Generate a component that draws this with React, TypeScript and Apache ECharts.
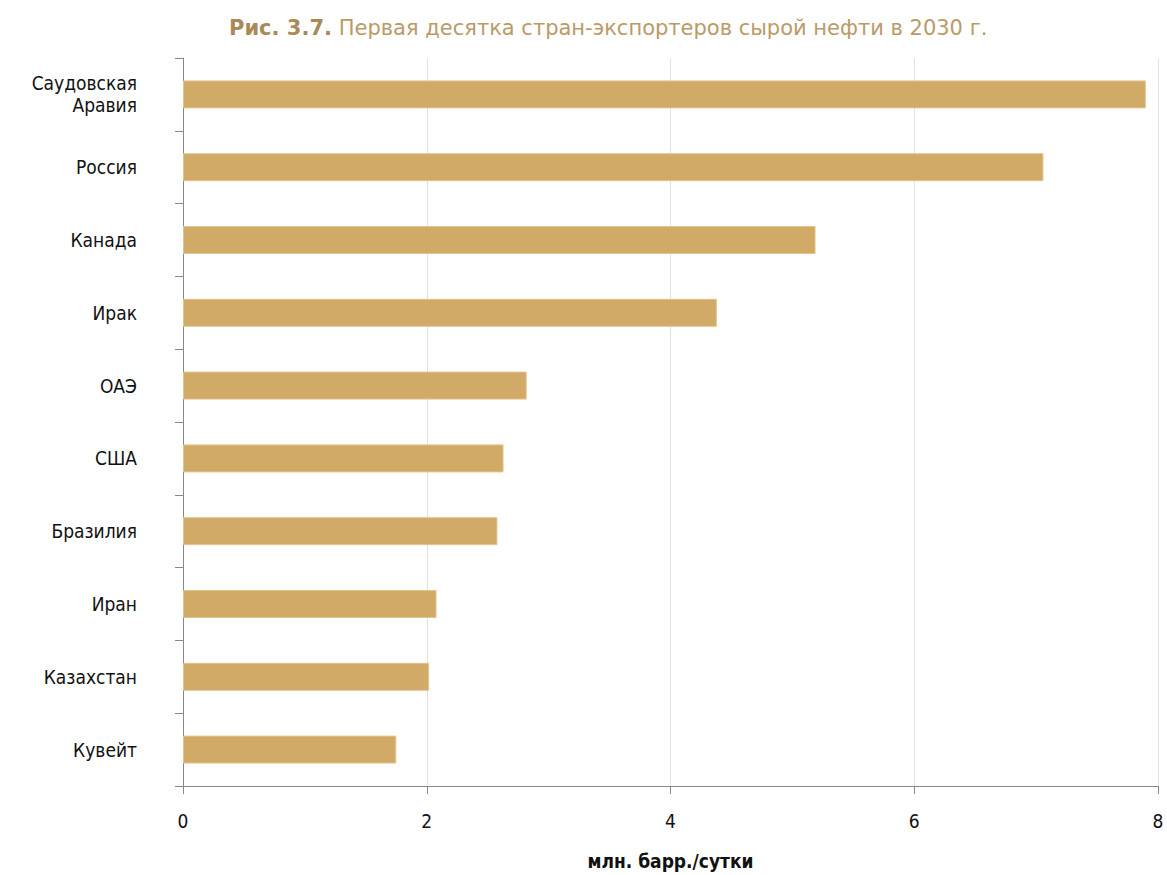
import React, { useEffect, useRef } from "react";
import * as echarts from "echarts";

const countries = ["Саудовская\nАравия", "Россия", "Канада", "Ирак", "ОАЭ", "США", "Бразилия", "Иран", "Казахстан", "Кувейт"];
const exports2030 = [7.9, 7.06, 5.19, 4.38, 2.82, 2.63, 2.58, 2.08, 2.02, 1.75];
const xTicks = [0, 2, 4, 6, 8];

export default function App() {
  const ref = useRef<HTMLDivElement>(null);
  useEffect(() => {
    const chart = echarts.init(ref.current!, null, { renderer: "svg" });
    chart.setOption({
      animation: false,
      title: {
        text: "{b|Рис. 3.7.} Первая десятка стран-экспортеров сырой нефти в 2030 г.",
        left: 224,
        top: 12,
        textStyle: {
          fontFamily: "DejaVu Sans",
          fontSize: 21,
          fontWeight: "normal",
          color: "#B99A68",
          rich: {
            b: { fontFamily: "DejaVu Sans", fontSize: 21, fontWeight: "bold", color: "#A88A58" },
          },
        },
      },
      grid: { left: 183, right: 9, top: 58, bottom: 87, containLabel: false },
      xAxis: {
        type: "value",
        min: xTicks[0],
        max: xTicks[xTicks.length - 1],
        interval: 2,
        name: "млн. барр./сутки",
        nameLocation: "middle",
        nameGap: 65,
        nameTextStyle: { fontFamily: "DejaVu Sans Condensed", fontSize: 19, fontWeight: "bold", color: "#111" },
        axisLine: { show: true, lineStyle: { color: "#888" } },
        axisTick: { show: true, length: 8, lineStyle: { color: "#888" } },
        axisLabel: { fontFamily: "DejaVu Sans Condensed", fontSize: 19, color: "#111", margin: 25 },
        splitLine: { show: true, lineStyle: { color: "#e2e2e2" } },
      },
      yAxis: {
        type: "category",
        data: countries,
        inverse: true,
        axisLine: { show: true, lineStyle: { color: "#888" } },
        axisTick: { show: true, length: 8, lineStyle: { color: "#888" } },
        axisLabel: { fontFamily: "DejaVu Sans Condensed", fontSize: 19, color: "#111", margin: 46, lineHeight: 22, align: "right" },
      },
      series: [
        {
          type: "bar",
          data: exports2030,
          barWidth: 28,
          itemStyle: { color: "#D2AA68", borderColor: "#E2C48E", borderWidth: 1 },
        },
      ],
    });
    return () => chart.dispose();
  }, []);
  return <div ref={ref} style={{ position: "absolute", left: 0, top: 0, width: 1167, height: 875 }} />;
}
